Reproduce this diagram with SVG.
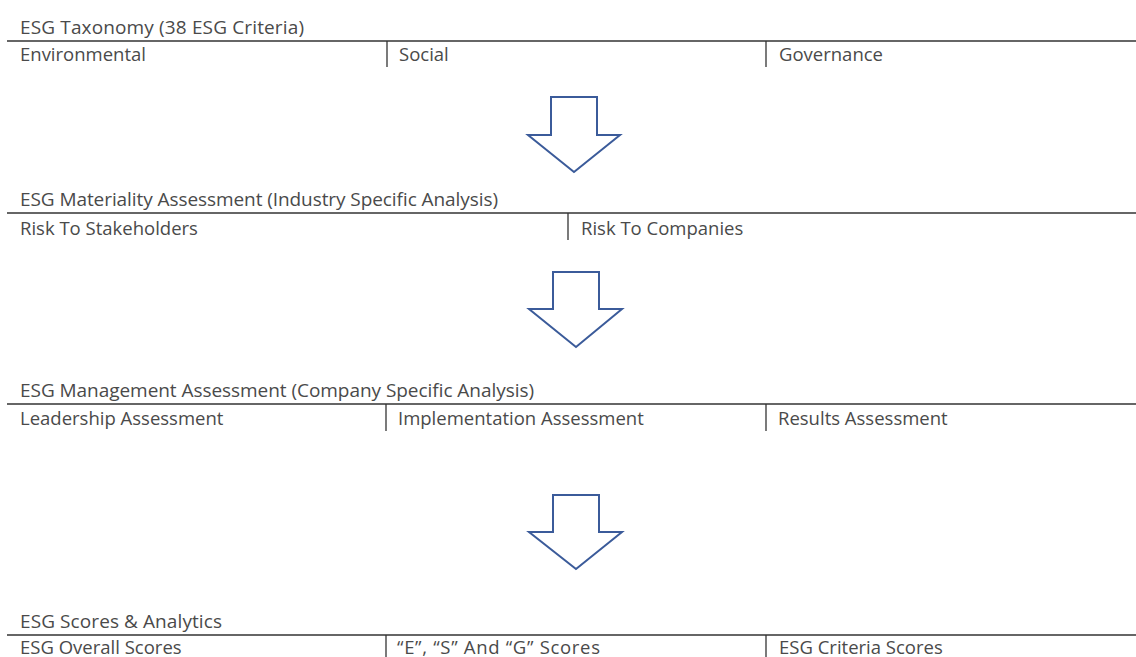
<svg xmlns="http://www.w3.org/2000/svg" width="1136" height="657" viewBox="0 0 1136 657">
<style>
text{font-family:"Open Sans","Liberation Sans",sans-serif;font-size:18.5px;fill:#4a4a4a}
.hdr{font-size:19px}
.rule{stroke:#333;stroke-width:1.3;fill:none}
.div{stroke:#333;stroke-width:1.3;fill:none}
.arrow{fill:#fff;stroke:#3b5b9a;stroke-width:2;stroke-linejoin:miter}
</style>
<rect width="1136" height="657" fill="#fff"/>
<g id="taxonomy">
<text class="hdr" x="20" y="34" textLength="284">ESG Taxonomy (38 ESG Criteria)</text>
<line class="rule" x1="7" y1="41" x2="1136" y2="41"/>
<line class="div" x1="387" y1="41" x2="387" y2="67"/>
<line class="div" x1="766" y1="41" x2="766" y2="67"/>
<text x="20" y="61">Environmental</text>
<text x="399" y="61">Social</text>
<text x="779" y="61">Governance</text>
</g>
<g id="materiality">
<text class="hdr" x="20" y="206" textLength="478">ESG Materiality Assessment (Industry Specific Analysis)</text>
<line class="rule" x1="7" y1="213" x2="1136" y2="213"/>
<line class="div" x1="568" y1="213" x2="568" y2="240"/>
<text x="20" y="235">Risk To Stakeholders</text>
<text x="581" y="235">Risk To Companies</text>
</g>
<g id="management">
<text class="hdr" x="20" y="397" textLength="514">ESG Management Assessment (Company Specific Analysis)</text>
<line class="rule" x1="7" y1="404" x2="1136" y2="404"/>
<line class="div" x1="386" y1="404" x2="386" y2="431"/>
<line class="div" x1="766" y1="404" x2="766" y2="431"/>
<text x="20" y="425">Leadership Assessment</text>
<text x="398" y="425">Implementation Assessment</text>
<text x="778" y="425">Results Assessment</text>
</g>
<g id="scores">
<text class="hdr" x="20" y="628" textLength="202">ESG Scores &amp; Analytics</text>
<line class="rule" x1="7" y1="635" x2="1136" y2="635"/>
<line class="div" x1="386" y1="635" x2="386" y2="657"/>
<line class="div" x1="766" y1="635" x2="766" y2="657"/>
<text x="20" y="654">ESG Overall Scores</text>
<text x="397" y="654" textLength="203">“E”, “S” And “G” Scores</text>
<text x="779" y="654">ESG Criteria Scores</text>
</g>
<g id="connectors">
<polygon class="arrow" points="551,97 597,97 597,135 620,135 574,172 528,135 551,135"/>
<polygon class="arrow" points="553,272 599,272 599,309 622,309 576,347 529,309 553,309"/>
<polygon class="arrow" points="553,495 599,495 599,532 622,532 576,569 529,532 553,532"/>
</g>
</svg>
